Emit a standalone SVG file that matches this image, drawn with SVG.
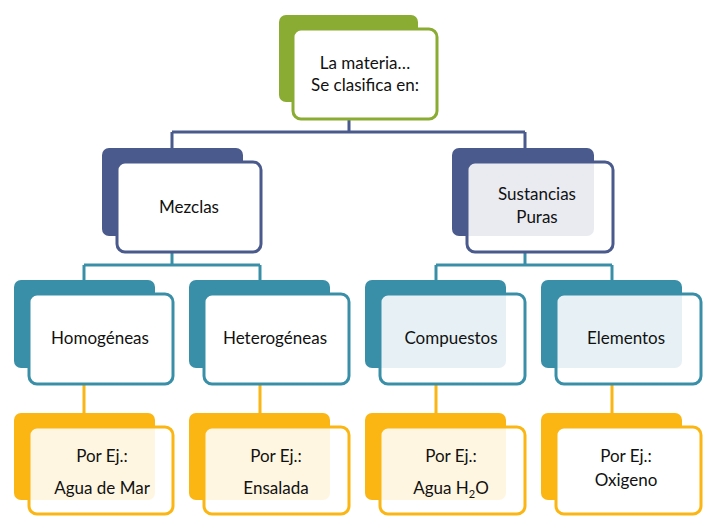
<svg xmlns="http://www.w3.org/2000/svg" width="709" height="529" viewBox="0 0 709 529">
<style>
text{font-family:Lato,"Liberation Sans",sans-serif;font-size:17px;fill:#111;text-anchor:middle}
.f{fill:#fff;stroke-width:3}
.t{fill-opacity:0.88}
.g{fill:#8aac32}.gs{stroke:#8aac32}
.n{fill:#4a5a8c}.ns{stroke:#4a5a8c}
.c{fill:#3a8fa8}.cs{stroke:#3a8fa8}
.y{fill:#fbb614}.ys{stroke:#fbb614}
.l{fill:none;stroke-width:3}
</style>
<g id="connectors">
<path class="l ns" d="M349 120V132M172 132H525M172 132V148M525 132V148"/>
<path class="l cs" d="M172 252V265M84 265H260M84 265V280M260 265V280M525 252V265M436 265H612M436 265V280M612 265V280"/>
<path class="l ys" d="M84 384V413M260 384V413M436 384V413M612 384V413"/>
</g>
<g id="root"><rect class="g" x="279" y="15" width="139" height="87" rx="7"/><rect class="f gs" x="293" y="29" width="144" height="90" rx="8"/><text x="365" y="69">La materia…</text><text x="365" y="91">Se clasifica en:</text></g>
<g id="mezclas"><rect class="n" x="102" y="148" width="141" height="88" rx="7"/><rect class="f ns" x="117" y="162" width="144" height="90" rx="8"/><text x="189" y="213">Mezclas</text></g>
<g id="sustancias"><rect class="n" x="452" y="148" width="142" height="88" rx="7"/><rect class="f ns t" x="467" y="162" width="146" height="90" rx="8"/><text x="537" y="200">Sustancias</text><text x="537" y="223">Puras</text></g>
<g id="homogeneas"><rect class="c" x="14" y="280" width="141" height="88" rx="7"/><rect class="f cs" x="29" y="294" width="144" height="90" rx="8"/><text x="100" y="344">Homogéneas</text></g>
<g id="heterogeneas"><rect class="c" x="189" y="280" width="141" height="88" rx="7"/><rect class="f cs" x="204" y="294" width="145" height="90" rx="8"/><text x="275" y="344">Heterogéneas</text></g>
<g id="compuestos"><rect class="c" x="365" y="280" width="141" height="88" rx="7"/><rect class="f cs t" x="380" y="294" width="145" height="90" rx="8"/><text x="451" y="344">Compuestos</text></g>
<g id="elementos"><rect class="c" x="541" y="280" width="141" height="88" rx="7"/><rect class="f cs t" x="556" y="294" width="145" height="90" rx="8"/><text x="626" y="344">Elementos</text></g>
<g id="ej1"><rect class="y" x="14" y="413" width="141" height="87" rx="7"/><rect class="f ys t" x="29" y="427" width="144" height="87" rx="8"/><text x="102" y="462">Por Ej.:</text><text x="102" y="494">Agua de Mar</text></g>
<g id="ej2"><rect class="y" x="189" y="413" width="141" height="87" rx="7"/><rect class="f ys t" x="204" y="427" width="145" height="87" rx="8"/><text x="276" y="462">Por Ej.:</text><text x="276" y="494">Ensalada</text></g>
<g id="ej3"><rect class="y" x="365" y="413" width="141" height="87" rx="7"/><rect class="f ys t" x="380" y="427" width="145" height="87" rx="8"/><text x="451" y="462">Por Ej.:</text><text x="451" y="494">Agua H<tspan font-size="11" dy="4">2</tspan><tspan dy="-4">O</tspan></text></g>
<g id="ej4"><rect class="y" x="541" y="413" width="141" height="87" rx="7"/><rect class="f ys" x="556" y="427" width="145" height="87" rx="8"/><text x="626" y="462">Por Ej.:</text><text x="626" y="486">Oxigeno</text></g>
</svg>
